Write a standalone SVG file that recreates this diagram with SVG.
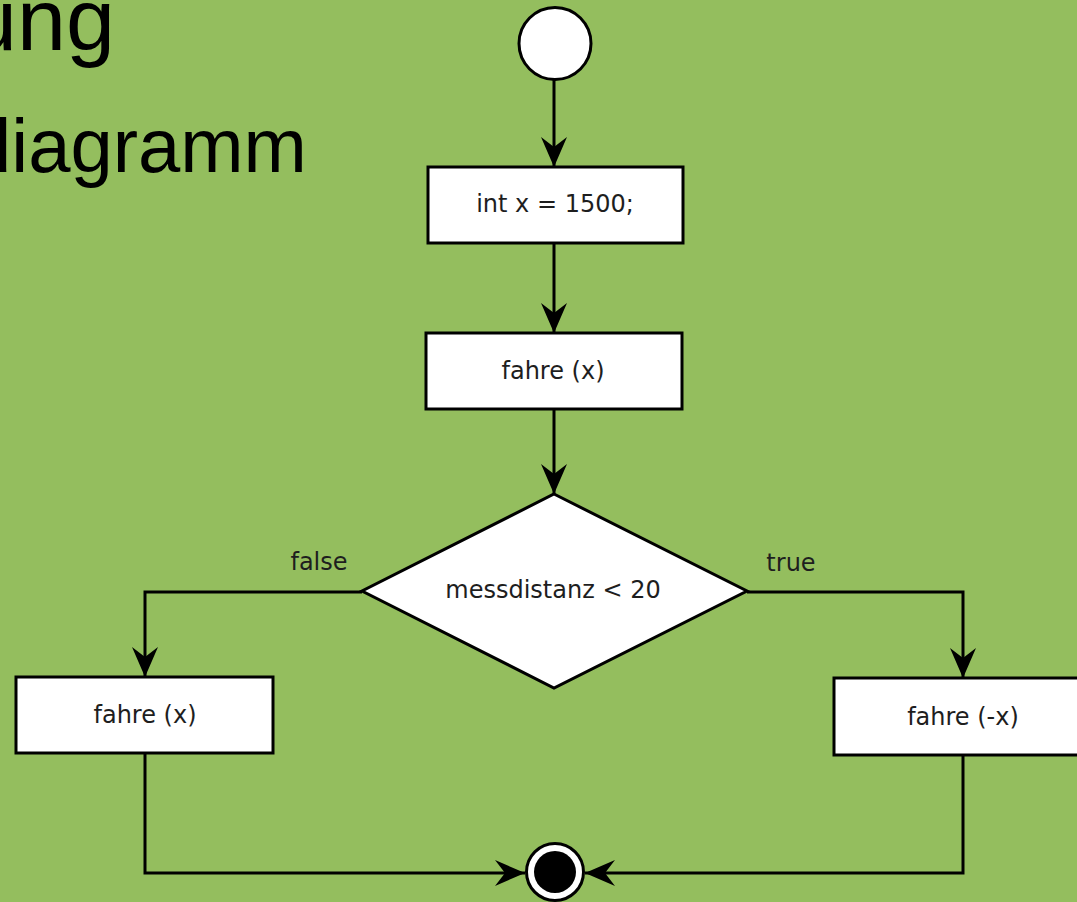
<svg xmlns="http://www.w3.org/2000/svg" width="1077" height="902" viewBox="0 0 1077 902">
  <style>
    .title { font-family: "Liberation Sans", Arial, sans-serif; fill: #000; }
    .box { fill: #fff; stroke: #000; stroke-width: 3; }
    .lbl { font-family: "DejaVu Sans", "Noto Sans", sans-serif; font-size: 24px; fill: #1e1e1e; text-anchor: middle; }
    .edge { fill: none; stroke: #000; stroke-width: 3; }
    .arrow { marker-end: url(#head); }
  </style>
  <defs>
    <marker id="head" markerUnits="userSpaceOnUse" viewBox="-31 -15 32 30" refX="0" refY="0" markerWidth="32" markerHeight="30" orient="auto">
      <path d="M0,0 L-30,-13 L-20,0 L-30,13 Z" fill="#000"/>
    </marker>
  </defs>

  <!-- background -->
  <rect width="1077" height="902" fill="#94be5e"/>

  <!-- slide heading (clipped at left edge) -->
  <text class="title" x="-32" y="50" font-size="88">ung</text>
  <text class="title" x="-31" y="172" font-size="76">diagramm</text>

  <!-- connectors -->
  <g id="connectors">
    <path class="edge arrow" d="M554,80 L554,167"/>
    <path class="edge arrow" d="M554,243 L554,333"/>
    <path class="edge arrow" d="M554,409 L554,494"/>
    <path class="edge arrow" d="M362,592 L145,592 L145,677"/>
    <path class="edge arrow" d="M747,592 L963,592 L963,678"/>
    <path class="edge arrow" d="M145,753 L145,873 L525,873"/>
    <path class="edge arrow" d="M963,755 L963,873 L585,873"/>
    <text class="lbl" x="319" y="570">false</text>
    <text class="lbl" x="791" y="571">true</text>
  </g>

  <!-- start node -->
  <g id="start">
    <circle cx="555" cy="43.5" r="36" fill="#fff" stroke="#000" stroke-width="3"/>
  </g>

  <g id="init">
    <rect class="box" x="428" y="167" width="255" height="76"/>
    <text class="lbl" x="555" y="212">int x = 1500;</text>
  </g>

  <g id="drive">
    <rect class="box" x="426" y="333" width="256" height="76"/>
    <text class="lbl" x="553" y="379">fahre (x)</text>
  </g>

  <g id="decision">
    <polygon class="box" points="554,494 747,591 554,688 362,591"/>
    <text class="lbl" x="553" y="598">messdistanz &lt; 20</text>
  </g>

  <g id="drive-false">
    <rect class="box" x="16" y="677" width="257" height="76"/>
    <text class="lbl" x="145" y="723">fahre (x)</text>
  </g>

  <g id="drive-true">
    <rect class="box" x="834" y="678" width="258" height="77"/>
    <text class="lbl" x="963" y="725">fahre (-x)</text>
  </g>

  <!-- end node -->
  <g id="end">
    <circle cx="555" cy="872" r="28.5" fill="#fff" stroke="#000" stroke-width="3"/>
    <circle cx="555" cy="872" r="21" fill="#000"/>
  </g>
</svg>
